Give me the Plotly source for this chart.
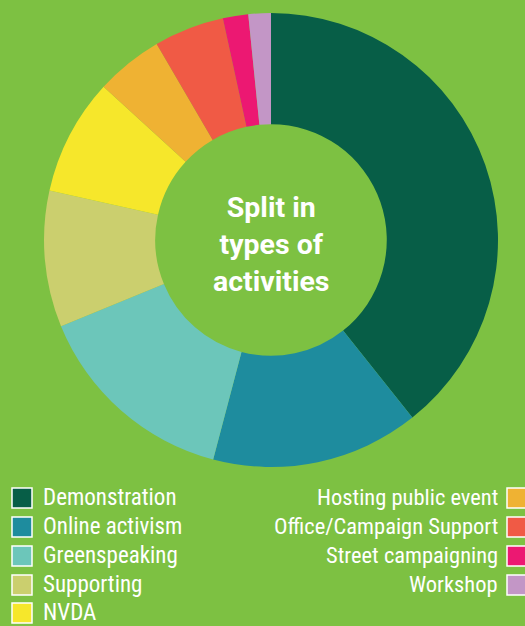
import plotly.graph_objects as go

categories = ["Demonstration", "Online activism", "Greenspeaking", "Supporting", "NVDA",
              "Hosting public event", "Office/Campaign Support", "Street campaigning", "Workshop"]
values = [39.3, 14.8, 14.7, 9.7, 8.3, 4.8, 5.0, 1.8, 1.6]
colors = ["#075E47", "#1E8C9E", "#6CC6BA", "#CBCF6E", "#F6E72B",
          "#EFB233", "#F05A45", "#EC1872", "#C396C6"]
center_title = "Split in<br>types of<br>activities"

W, H = 525, 626
BG = "#7DC142"
LEGEND_FONT = "Roboto Condensed, Liberation Sans Narrow, DejaVu Sans Condensed, Roboto, sans-serif"

fig = go.Figure(go.Pie(
    labels=categories, values=values, sort=False, direction="clockwise", rotation=0,
    hole=0.51, marker=dict(colors=colors, line=dict(width=0)),
    textinfo="none", hoverinfo="label+percent", showlegend=False,
    domain=dict(x=[44 / W, 498 / W], y=[(H - 467) / H, (H - 13) / H]),
))

annotations = [dict(text=center_title, x=271 / W, y=1 - 245 / H, xref="paper", yref="paper",
                    showarrow=False, font=dict(family="Roboto, sans-serif", size=28.5, color="white",
                                               weight="bold"),
                    align="center", xanchor="center", yanchor="middle")]
shapes = []
left = list(range(5))
right = list(range(5, 9))
row_y = [498, 527, 556, 585, 613]
for k, i in enumerate(left):
    yc = row_y[k]
    shapes.append(dict(type="rect", xref="paper", yref="paper",
                       x0=12 / W, x1=32 / W, y0=1 - (yc + 10) / H, y1=1 - (yc - 10) / H,
                       fillcolor=colors[i], line=dict(color="white", width=1.5)))
    annotations.append(dict(text=categories[i], x=41 / W, y=1 - (yc - 1) / H, xref="paper", yref="paper",
                            showarrow=False, xanchor="left", yanchor="middle",
                            font=dict(family=LEGEND_FONT, size=23, color="white")))
for k, i in enumerate(right):
    yc = row_y[k]
    shapes.append(dict(type="rect", xref="paper", yref="paper",
                       x0=507 / W, x1=527 / W, y0=1 - (yc + 10) / H, y1=1 - (yc - 10) / H,
                       fillcolor=colors[i], line=dict(color="white", width=1.5)))
    annotations.append(dict(text=categories[i], x=500 / W, y=1 - (yc - 1) / H, xref="paper", yref="paper",
                            showarrow=False, xanchor="right", yanchor="middle",
                            font=dict(family=LEGEND_FONT, size=22.5, color="white")))

fig.update_layout(width=W, height=H, margin=dict(l=0, r=0, t=0, b=0),
                  paper_bgcolor=BG, plot_bgcolor=BG,
                  annotations=annotations, shapes=shapes)
fig.write_html("out.html", config={"displayModeBar": False},
               post_script="document.body.style.margin='0';document.body.style.padding='0';"
                           "document.body.style.background='" + BG + "';")
